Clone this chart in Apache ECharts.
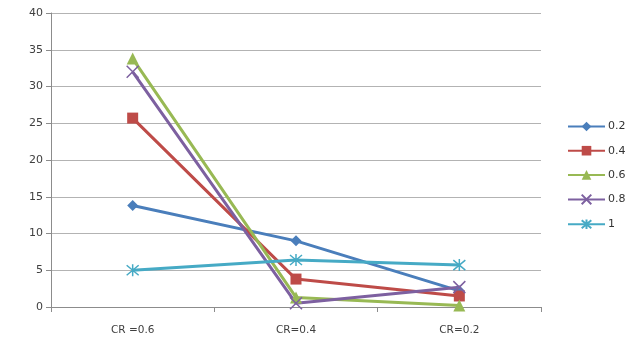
<!DOCTYPE html>
<html><head><meta charset="utf-8">
<script src="https://cdn.jsdelivr.net/npm/echarts@6/dist/echarts.min.js"></script>
<style>html,body{margin:0;padding:0;background:#fff}#c{width:643px;height:338px}</style>
</head><body><div id="c"></div>
<script>
const categories = ['CR =0.6', 'CR=0.4', 'CR=0.2'];
const seriesNames = ['0.2', '0.4', '0.6', '0.8', '1'];
const s02 = [13.8, 9.0, 2.2];
const s04 = [25.7, 3.8, 1.5];
const s06 = [33.8, 1.3, 0.2];
const s08 = [32.0, 0.5, 2.7];
const s10 = [5.0, 6.4, 5.7];
const yTicks = {min: 0, max: 40, interval: 5};

const colors = ['#4a7ebb', '#be4b48', '#98b954', '#7d60a0', '#46aac5'];
const data = [s02, s04, s06, s08, s10];
const crossPath = 'path://M0,0L10,10M10,0L0,10';
const starPath = 'path://M0,0L10,10M10,0L0,10M5,-1L5,11';
const symbols = ['diamond', 'rect', 'triangle', crossPath, starPath];
const sizes = [11, 11, 12, 12, 12];

const chart = echarts.init(document.getElementById('c'));
chart.setOption({
  animation: false,
  textStyle: {fontFamily: 'DejaVu Sans'},
  grid: {left: 51, right: 102, top: 13, bottom: 31, containLabel: false},
  legend: {
    orient: 'vertical', left: 562, top: 116,
    itemWidth: 37, itemHeight: 12, itemGap: 13.2,
    textStyle: {fontSize: 11, color: '#333', fontFamily: 'DejaVu Sans', padding: [0,0,0,-2]},
    data: seriesNames
  },
  xAxis: {
    type: 'category', data: categories, boundaryGap: true,
    axisLine: {lineStyle: {color: '#8c8c8c', width: 1}},
    axisTick: {show: true, length: 5, lineStyle: {color: '#8c8c8c'}},
    axisLabel: {fontSize: 10.5, color: '#404040', margin: 18}
  },
  yAxis: {
    type: 'value', min: yTicks.min, max: yTicks.max, interval: yTicks.interval,
    axisLine: {show: true, lineStyle: {color: '#8c8c8c'}},
    axisTick: {show: true, length: 5, lineStyle: {color: '#8c8c8c'}},
    axisLabel: {fontSize: 11, color: '#404040', margin: 8},
    splitLine: {lineStyle: {color: '#b3b3b3', width: 1}}
  },
  series: seriesNames.map((n, i) => ({
    name: n, type: 'line', data: data[i],
    symbol: symbols[i], symbolSize: sizes[i],
    lineStyle: {color: colors[i], width: 3},
    itemStyle: i >= 3 ? {color: 'rgba(0,0,0,0)', borderColor: colors[i], borderWidth: 1.5} : {color: colors[i]},
    color: colors[i]
  }))
});
</script></body></html>
